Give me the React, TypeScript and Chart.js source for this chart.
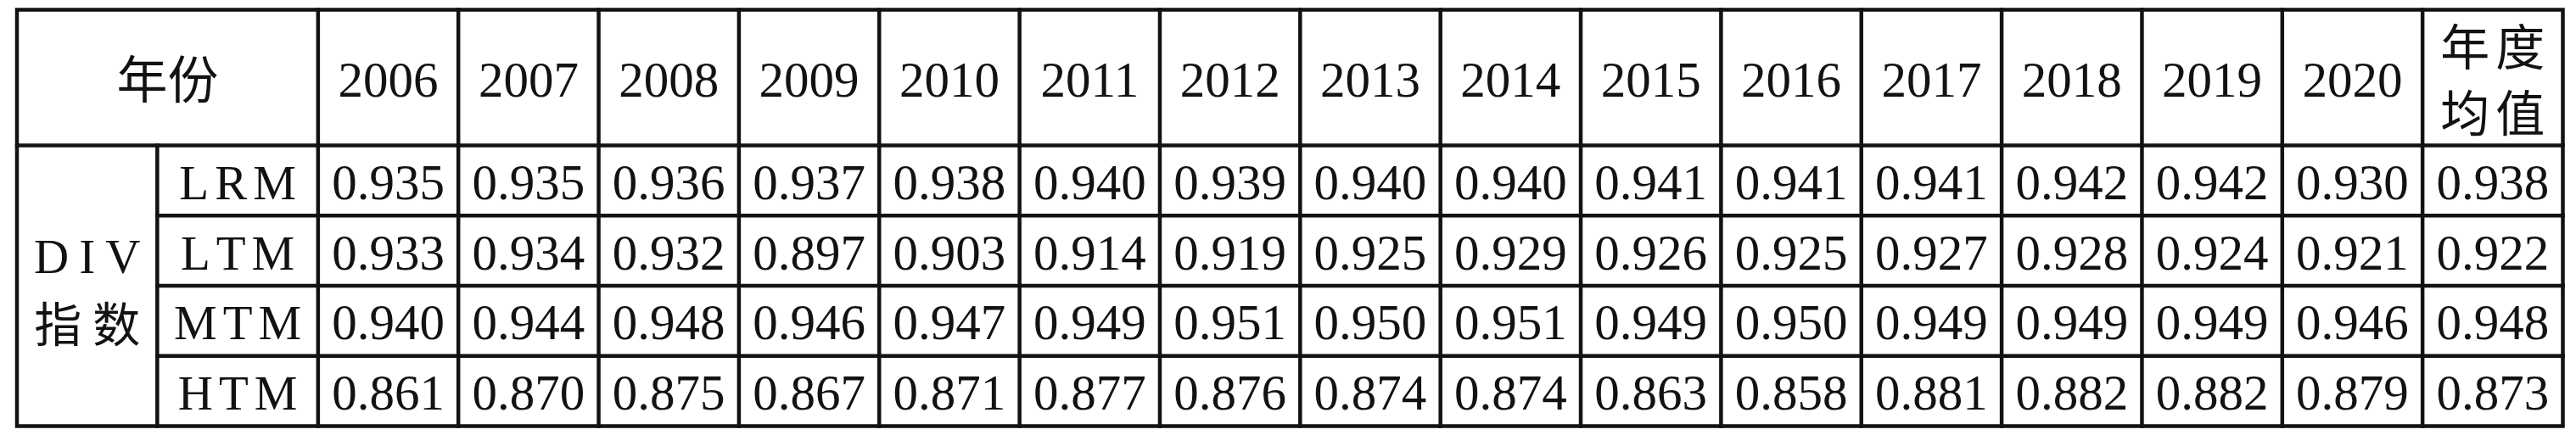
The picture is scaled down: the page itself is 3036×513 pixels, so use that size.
import React, { useEffect, useRef } from "react";
import { Chart, registerables } from "chart.js";

Chart.register(...registerables);

// ---- data ----
const cornerLabel = "年份";
const groupLabel = ["DIV", "指数"];
const years = ["2006", "2007", "2008", "2009", "2010", "2011", "2012", "2013", "2014", "2015", "2016", "2017", "2018", "2019", "2020"];
const meanLabel = ["年度", "均值"];
const methods = ["LRM", "LTM", "MTM", "HTM"];
const lrm = ["0.935", "0.935", "0.936", "0.937", "0.938", "0.940", "0.939", "0.940", "0.940", "0.941", "0.941", "0.941", "0.942", "0.942", "0.930", "0.938"];
const ltm = ["0.933", "0.934", "0.932", "0.897", "0.903", "0.914", "0.919", "0.925", "0.929", "0.926", "0.925", "0.927", "0.928", "0.924", "0.921", "0.922"];
const mtm = ["0.940", "0.944", "0.948", "0.946", "0.947", "0.949", "0.951", "0.950", "0.951", "0.949", "0.950", "0.949", "0.949", "0.949", "0.946", "0.948"];
const htm = ["0.861", "0.870", "0.875", "0.867", "0.871", "0.877", "0.876", "0.874", "0.874", "0.863", "0.858", "0.881", "0.882", "0.882", "0.879", "0.873"];
const rows = [lrm, ltm, mtm, htm];

// ---- layout (scale units) ----
const DIV_W = 1;
const METHOD_W = 1.146;
const HEADER_H = 1.934;
const DATA_COLS = years.length + 1;
const X_MAX = DIV_W + METHOD_W + DATA_COLS;
const Y_MAX = HEADER_H + methods.length;

const LATIN = '"Liberation Serif", "Times New Roman", serif';
const CJK = '"Noto Sans CJK SC", "Noto Sans CJK JP", sans-serif';
const INK = "#121212";
const LINE_W = 4.5;
const FS = 59;

function drawSpaced(ctx: CanvasRenderingContext2D, text: string, cx: number, y: number, extra: number) {
  const chars = [...text];
  const widths = chars.map((c) => ctx.measureText(c).width);
  const total = widths.reduce((a, b) => a + b, 0) + extra * (chars.length - 1);
  let x = cx - total / 2;
  ctx.textAlign = "left";
  chars.forEach((c, i) => {
    ctx.fillText(c, x, y);
    x += widths[i] + extra;
  });
}

const tablePlugin = {
  id: "tableGrid",
  afterDatasetsDraw(chart: any) {
    const { ctx } = chart;
    const xs = chart.scales.x;
    const ys = chart.scales.y;
    const X = (v: number) => xs.getPixelForValue(v);
    const Y = (v: number) => ys.getPixelForValue(v);
    const latinBase = (cy: number) => cy + 0.33 * FS + 2.5;

    ctx.save();
    ctx.strokeStyle = INK;
    ctx.lineWidth = LINE_W;
    ctx.lineCap = "square";
    const line = (x1: number, y1: number, x2: number, y2: number) => {
      ctx.beginPath();
      ctx.moveTo(x1, y1);
      ctx.lineTo(x2, y2);
      ctx.stroke();
    };
    // outer border
    ctx.strokeRect(X(0), Y(0), X(X_MAX) - X(0), Y(Y_MAX) - Y(0));
    // header bottom
    line(X(0), Y(HEADER_H), X(X_MAX), Y(HEADER_H));
    // row separators (not across merged DIV cell)
    for (let r = 1; r < methods.length; r++) {
      line(X(DIV_W), Y(HEADER_H + r), X(X_MAX), Y(HEADER_H + r));
    }
    // DIV | method separator
    line(X(DIV_W), Y(HEADER_H), X(DIV_W), Y(Y_MAX));
    // data column separators
    for (let c = 0; c < DATA_COLS; c++) {
      const xv = DIV_W + METHOD_W + c;
      line(X(xv), Y(0), X(xv), Y(Y_MAX));
    }

    ctx.fillStyle = INK;
    // corner label
    ctx.font = `60px ${CJK}`;
    ctx.textBaseline = "middle";
    drawSpaced(ctx, cornerLabel, X((DIV_W + METHOD_W) / 2), Y(HEADER_H / 2) + 2, 0);

    // year headers
    ctx.font = `${FS}px ${LATIN}`;
    ctx.textBaseline = "alphabetic";
    ctx.textAlign = "center";
    years.forEach((yr, i) => {
      const cx = X(DIV_W + METHOD_W + i + 0.5);
      ctx.fillText(yr, cx, latinBase(Y(HEADER_H / 2)) + 1);
    });

    // mean header (two lines)
    ctx.font = `58px ${CJK}`;
    ctx.textBaseline = "middle";
    const mcx = X(DIV_W + METHOD_W + years.length + 0.5);
    const hc = Y(HEADER_H / 2);
    drawSpaced(ctx, meanLabel[0], mcx, hc - 37, 7);
    drawSpaced(ctx, meanLabel[1], mcx, hc + 41, 7);

    // group label
    const gcx = X(DIV_W / 2);
    const gcy = Y(HEADER_H + methods.length / 2);
    ctx.font = `57px ${LATIN}`;
    ctx.textBaseline = "alphabetic";
    drawSpaced(ctx, groupLabel[0], gcx, gcy - 34 + 0.33 * 57, 12);
    ctx.font = `56px ${CJK}`;
    ctx.textBaseline = "middle";
    drawSpaced(ctx, groupLabel[1], gcx, gcy + 45, 13);

    // method labels
    ctx.font = `57px ${LATIN}`;
    ctx.textBaseline = "alphabetic";
    methods.forEach((m, r) => {
      drawSpaced(ctx, m, X(DIV_W + METHOD_W / 2), latinBase(Y(HEADER_H + r + 0.5)), 7);
    });

    // data cells, placed at the dataset element positions
    ctx.font = `${FS}px ${LATIN}`;
    ctx.textAlign = "center";
    rows.forEach((vals, r) => {
      const meta = chart.getDatasetMeta(r);
      vals.forEach((v, i) => {
        const el = meta.data[i];
        if (!el) return;
        ctx.fillText(v, el.x, latinBase(el.y));
      });
    });
    ctx.restore();
  },
};

export default function App() {
  const ref = useRef<HTMLCanvasElement | null>(null);
  useEffect(() => {
    if (!ref.current) return;
    const datasets = rows.map((vals, r) => ({
      label: methods[r],
      data: vals.map((v, i) => ({ x: DIV_W + METHOD_W + i + 0.5, y: HEADER_H + r + 0.5, v })),
      pointRadius: 0,
      pointHoverRadius: 0,
      showLine: false,
    }));
    const chart = new Chart(ref.current, {
      type: "scatter",
      data: { datasets },
      options: {
        animation: false,
        responsive: false,
        devicePixelRatio: 1,
        events: [],
        layout: { padding: { left: 20, right: 15.5, top: 11.5, bottom: 10.5 } },
        plugins: { legend: { display: false }, tooltip: { enabled: false }, title: { display: false } },
        scales: {
          x: { type: "linear", min: 0, max: X_MAX, display: false },
          y: { type: "linear", min: 0, max: Y_MAX, reverse: true, display: false },
        },
      },
      plugins: [tablePlugin],
    } as any);
    return () => chart.destroy();
  }, []);
  return (
    <div style={{ position: "fixed", left: 0, top: 0, width: 3036, height: 513, background: "#fff" }}>
      <canvas ref={ref} width={3036} height={513} style={{ width: 3036, height: 513, display: "block" }} />
    </div>
  );
}
